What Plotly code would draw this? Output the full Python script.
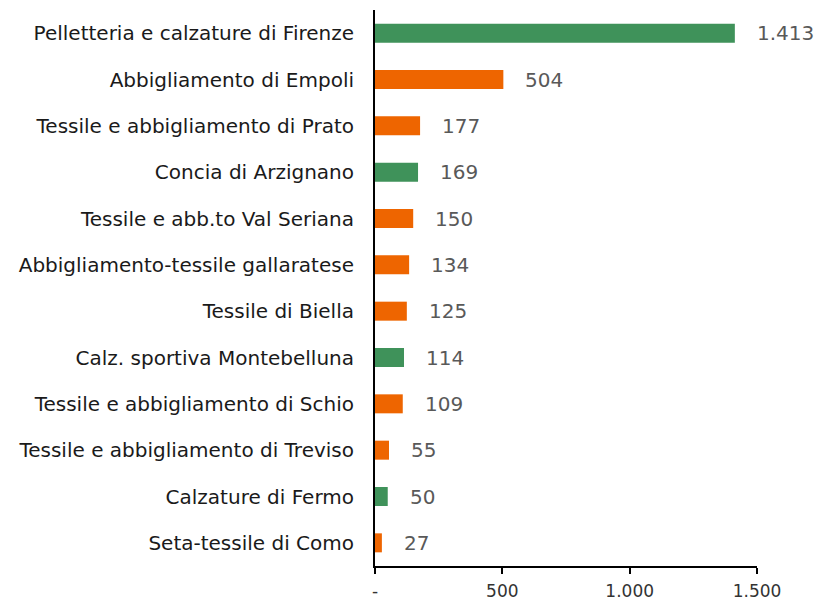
import plotly.graph_objects as go

categories = [
    "Pelletteria e calzature di Firenze",
    "Abbigliamento di Empoli",
    "Tessile e abbigliamento di Prato",
    "Concia di Arzignano",
    "Tessile e abb.to Val Seriana",
    "Abbigliamento-tessile gallaratese",
    "Tessile di Biella",
    "Calz. sportiva Montebelluna",
    "Tessile e abbigliamento di Schio",
    "Tessile e abbigliamento di Treviso",
    "Calzature di Fermo",
    "Seta-tessile di Como",
]
values = [1413, 504, 177, 169, 150, 134, 125, 114, 109, 55, 50, 27]
groups = ["g", "o", "o", "g", "o", "o", "o", "g", "o", "o", "g", "o"]
value_labels = ["1.413", "504", "177", "169", "150", "134", "125", "114", "109", "55", "50", "27"]
tick_vals = [0, 500, 1000, 1500]
tick_text = ["-", "500", "1.000", "1.500"]

GREEN = "#3f925a"
ORANGE = "#ee6500"
colors = [GREEN if g == "g" else ORANGE for g in groups]

FONT = "DejaVu Sans"

fig = go.Figure()
fig.add_trace(go.Bar(
    x=values, y=categories, orientation="h",
    marker=dict(color=colors, line=dict(width=0)),
    width=0.41, hoverinfo="x+y",
))

for c, v, t in zip(categories, values, value_labels):
    fig.add_annotation(x=v, y=c, text=t, showarrow=False, xanchor="left",
                       xshift=20, font=dict(family=FONT, size=20, color="#595959"))

fig.update_layout(
    width=819, height=601,
    margin=dict(l=375, r=62, t=10, b=35),
    paper_bgcolor="white", plot_bgcolor="white",
    showlegend=False, bargap=0.59,
    font=dict(family=FONT, color="#1a1a1a"),
)
fig.update_xaxes(
    range=[0, 1500], tickvals=tick_vals, ticktext=tick_text,
    showgrid=False, zeroline=False, showline=True, linecolor="black", linewidth=1.5,
    ticks="outside", ticklen=6, tickcolor="black", tickwidth=1.5,
    ticklabelstandoff=3, automargin=False,
    tickfont=dict(family=FONT, size=17, color="#333333"),
)
fig.update_yaxes(
    autorange="reversed", showgrid=False, zeroline=False,
    showline=True, linecolor="black", linewidth=2, ticks="",
    ticklabelstandoff=15, automargin=False,
    tickfont=dict(family=FONT, size=20, color="#1a1a1a"),
)
fig.write_html("out.html", config={"displayModeBar": False},
               post_script="document.body.style.margin='0';document.body.style.padding='0';")
